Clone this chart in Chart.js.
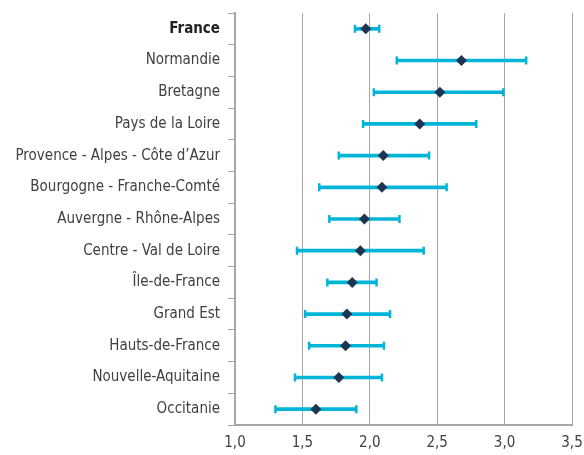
<!DOCTYPE html>
<html>
<head>
<meta charset="utf-8">
<script src="https://cdn.jsdelivr.net/npm/chart.js@4"></script>
<style>
  html, body { margin: 0; padding: 0; background: #fff; }
  #wrap { width: 584px; height: 455px; }
</style>
</head>
<body>
<div id="wrap"><canvas id="chart"></canvas></div>
<script>
// Regions, mean value and confidence interval
const regions = ['France', 'Normandie', 'Bretagne', 'Pays de la Loire', 'Provence - Alpes - Côte d\u2019Azur',
    'Bourgogne - Franche-Comté', 'Auvergne - Rhône-Alpes', 'Centre - Val de Loire', 'Île-de-France',
    'Grand Est', 'Hauts-de-France', 'Nouvelle-Aquitaine', 'Occitanie'];
const means = [1.97, 2.68, 2.52, 2.37, 2.10, 2.09, 1.96, 1.93, 1.87, 1.83, 1.82, 1.77, 1.60];
const lows  = [1.89, 2.20, 2.03, 1.95, 1.77, 1.625, 1.70, 1.46, 1.685, 1.52, 1.55, 1.445, 1.30];
const highs = [2.07, 3.16, 2.99, 2.79, 2.44, 2.57, 2.22, 2.40, 2.05, 2.15, 2.105, 2.09, 1.90];
const xTicks = [1.0, 1.5, 2.0, 2.5, 3.0, 3.5];

const FONT = "'DejaVu Sans Condensed', sans-serif";
const CYAN = '#00b5d8';
const NAVY = '#1b3553';
const GRID = '#a6a6a6';

const caps = [];
regions.forEach((r, i) => {
    caps.push({ x: lows[i], y: r });
    caps.push({ x: highs[i], y: r });
});

const ctx = document.getElementById('chart').getContext('2d');
new Chart(ctx, {
    type: 'bar',
    data: {
        labels: regions,
        datasets: [
            {
                type: 'line',
                indexAxis: 'y',
                data: means.map((v, i) => ({ x: v, y: regions[i] })),
                showLine: false,
                pointStyle: 'rectRot',
                pointRadius: 5.5,
                pointBackgroundColor: NAVY,
                pointBorderColor: NAVY,
                pointBorderWidth: 0,
                order: 1
            },
            {
                type: 'line',
                indexAxis: 'y',
                data: caps,
                showLine: false,
                pointStyle: 'line',
                pointRotation: 90,
                pointRadius: 4,
                pointBorderWidth: 2.5,
                pointBorderColor: CYAN,
                order: 2
            },
            {
                type: 'bar',
                data: lows.map((l, i) => [l, highs[i]]),
                backgroundColor: CYAN,
                barThickness: 3,
                order: 3
            }
        ]
    },
    options: {
        indexAxis: 'y',
        responsive: true,
        maintainAspectRatio: false,
        animation: false,
        layout: {
            padding: { top: 13, right: 12, left: 0, bottom: 0 }
        },
        plugins: {
            legend: { display: false },
            tooltip: { enabled: false }
        },
        scales: {
            x: {
                min: 1,
                max: 3.5,
                afterBuildTicks: (s) => { s.ticks = xTicks.map(v => ({ value: v })); },
                afterFit: (s) => { s.paddingLeft = 0; s.paddingRight = 0; s.height = 30; },
                ticks: {
                    color: '#404040',
                    font: { family: FONT, size: 15 },
                    padding: 9,
                    callback: (v) => Number(v).toFixed(1).replace('.', ',')
                },
                grid: {
                    color: GRID,
                    lineWidth: 1,
                    drawTicks: false
                },
                border: { color: GRID, width: 2 }
            },
            y: {
                afterFit: (s) => { s.width = 235; s.paddingTop = 0; s.paddingBottom = 0; },
                ticks: {
                    color: (c) => c.index === 0 ? '#222' : '#404040',
                    font: (c) => ({ family: FONT, size: 15, weight: c.index === 0 ? 'bold' : 'normal' }),
                    padding: 8
                },
                grid: {
                    offset: true,
                    drawOnChartArea: false,
                    drawTicks: true,
                    tickLength: 7,
                    color: GRID
                },
                border: { color: GRID, width: 2 }
            }
        }
    }
});
</script>
</body>
</html>
